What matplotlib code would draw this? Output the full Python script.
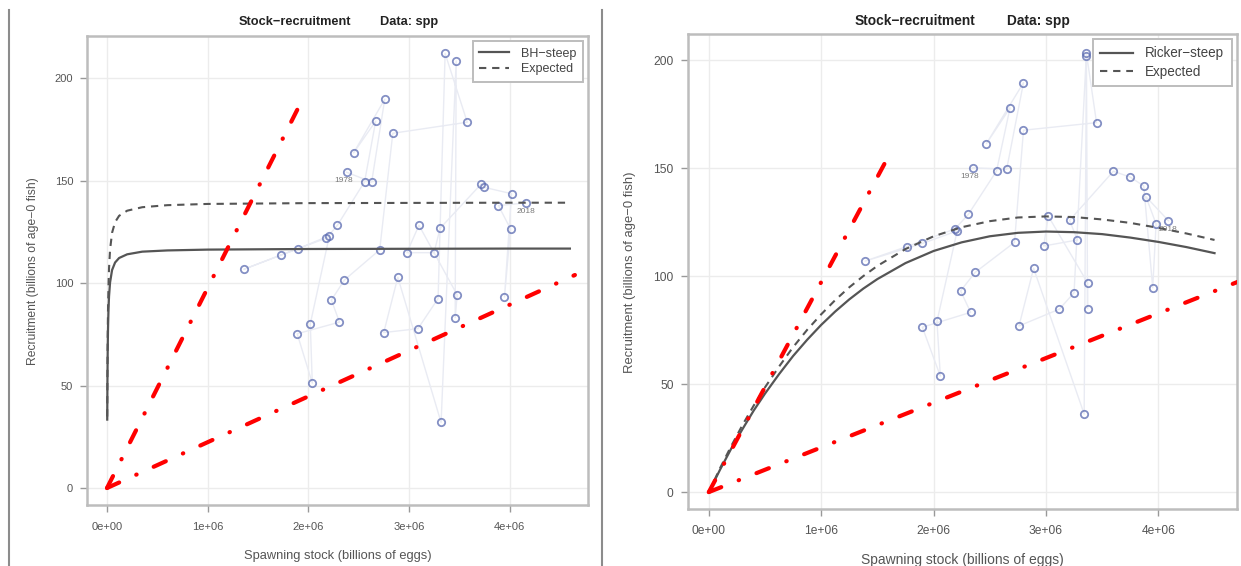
import matplotlib
matplotlib.use('Agg')
import matplotlib.pyplot as plt
from matplotlib.lines import Line2D
from matplotlib.ticker import FuncFormatter

plt.rcParams['font.family'] = ['Liberation Sans', 'DejaVu Sans']

W, H = 1241, 566

years = list(range(1978, 2019))

# left panel (Beverton-Holt), spawning stock in eggs, recruitment in billions
ssbBH = [2.38e6, 2.63e6, 2.76e6, 2.45e6, 2.67e6, 2.56e6, 2.29e6, 2.18e6, 1.73e6, 1.36e6,
         1.90e6, 2.21e6, 2.02e6, 2.04e6, 1.89e6, 2.31e6, 2.23e6, 2.36e6, 2.71e6, 2.84e6,
         3.58e6, 3.36e6, 3.29e6, 3.09e6, 2.75e6, 2.89e6, 3.32e6, 3.47e6, 3.46e6, 3.48e6,
         3.10e6, 2.98e6, 3.25e6, 3.31e6, 3.72e6, 3.75e6, 4.02e6, 3.95e6, 4.01e6, 3.89e6, 4.16e6]
recBH = [154.2, 149.4, 189.8, 163.6, 179.1, 149.6, 128.3, 122.0, 113.8, 106.8,
         116.9, 123.2, 80.1, 51.2, 75.3, 81.0, 91.8, 101.6, 116.3, 173.2,
         178.6, 212.2, 92.5, 77.8, 75.9, 102.9, 32.0, 208.5, 83.2, 94.3,
         128.3, 114.9, 114.9, 126.8, 148.5, 146.8, 143.7, 93.3, 126.5, 137.9, 139.2]

# right panel (Ricker)
ssbRk = [2.35e6, 2.65e6, 2.80e6, 2.47e6, 2.68e6, 2.56e6, 2.31e6, 2.19e6, 1.76e6, 1.39e6,
         1.90e6, 2.21e6, 2.03e6, 2.06e6, 1.90e6, 2.33e6, 2.24e6, 2.37e6, 2.72e6, 2.80e6,
         3.45e6, 3.36e6, 3.25e6, 3.12e6, 2.76e6, 2.89e6, 3.34e6, 3.36e6, 3.37e6, 3.37e6,
         3.02e6, 2.98e6, 3.28e6, 3.21e6, 3.60e6, 3.75e6, 3.87e6, 3.95e6, 3.98e6, 3.89e6, 4.09e6]
recRk = [150.1, 149.4, 189.5, 161.3, 177.8, 148.6, 128.6, 121.8, 113.6, 106.9,
         115.1, 120.9, 79.0, 53.7, 76.3, 83.2, 93.1, 101.7, 115.6, 167.5,
         171.0, 203.1, 92.3, 84.7, 76.9, 103.6, 36.1, 201.9, 84.9, 96.9,
         127.8, 113.9, 116.7, 125.8, 148.5, 145.8, 141.7, 94.6, 124.1, 136.7, 125.6]

# fitted curves
bhX = [0.002e6, 0.004e6, 0.007e6, 0.01e6, 0.015e6, 0.02e6, 0.03e6, 0.05e6, 0.08e6, 0.12e6,
       0.2e6, 0.35e6, 0.6e6, 1.0e6, 2.0e6, 3.0e6, 4.0e6, 4.6e6]
bhFit = [33.4, 52.0, 68.3, 78.0, 87.8, 93.6, 100.3, 106.4, 110.1, 112.3,
         114.1, 115.4, 116.0, 116.4, 116.7, 116.8, 116.9, 116.9]
bhExp = [34.9, 55.8, 75.1, 87.2, 99.6, 107.3, 116.3, 124.6, 129.8, 132.9,
         135.4, 137.1, 138.1, 138.7, 139.1, 139.2, 139.3, 139.3]

rkX = [0, 0.1e6, 0.2e6, 0.3e6, 0.4e6, 0.5e6, 0.625e6, 0.75e6, 0.875e6, 1.0e6, 1.125e6,
       1.25e6, 1.375e6, 1.5e6, 1.75e6, 2.0e6, 2.25e6, 2.5e6, 2.75e6, 3.0e6, 3.25e6,
       3.5e6, 3.75e6, 4.0e6, 4.25e6, 4.5e6]
rkFit = [0, 10.4, 20.2, 29.2, 37.8, 45.6, 54.6, 63.0, 70.5, 77.4, 83.6,
         89.2, 94.2, 98.6, 106.0, 111.6, 115.6, 118.4, 120.0, 120.6, 120.3,
         119.4, 117.8, 115.8, 113.4, 110.6]
rkExp = [0, 11.1, 21.4, 31.1, 40.1, 48.5, 58.1, 67.1, 75.1, 82.3, 88.9,
         94.8, 100.0, 104.7, 112.5, 118.4, 122.6, 125.4, 127.1, 127.6, 127.3,
         126.2, 124.6, 122.3, 119.7, 116.7]

# red reference lines (x end, y end) from the origin
steepBH = [1.90e6, 185.6]
lowBH = [4.65e6, 104.0]
steepRk = [1.59e6, 154.6]
lowRk = [4.90e6, 101.3]

tickX = [0, 1e6, 2e6, 3e6, 4e6]
tickY = [0, 50, 100, 150, 200]

fig = plt.figure(figsize=(W / 100, H / 100), dpi=100)


def fx(x):
    return x / W


def fy(y):
    return 1 - y / H


def drawPanel(rect, ssb, rec, fitX, fit, expct, fitName, steep, low, xlim, ylim,
              titleXs, titleY, xlabPos, ylabPos, fs):
    x0, y0, x1, y1 = rect
    ax = fig.add_axes([fx(x0), fy(y1), (x1 - x0) / W, (y1 - y0) / H])
    ax.set_xlim(*xlim)
    ax.set_ylim(*ylim)
    ax.set_xticks(tickX)
    ax.set_yticks(tickY)
    ax.grid(True, color='#ececec', lw=1)
    ax.set_axisbelow(True)
    ax.xaxis.set_major_formatter(FuncFormatter(lambda v, p: f"{v:.0e}"))
    ax.tick_params(colors='#999999', labelcolor='#555555', labelsize=8 * fs,
                   length=5, width=1)
    ax.tick_params(axis='x', pad=7)
    ax.tick_params(axis='y', pad=5)
    for s in ax.spines.values():
        s.set_color('#bdbdbd')
        s.set_linewidth(1.8)

    # trajectory and observations
    ax.plot(ssb, rec, color='#e9ebf3', lw=1, zorder=2)
    ax.plot(ssb, rec, 'o', mfc='none', mec='#5a6ab0', mew=1.3, ms=5.3, alpha=0.75, zorder=3)
    ax.annotate(str(years[0]), (ssb[0], rec[0]), xytext=(-2, -6), textcoords='offset points',
                ha='center', va='center', fontsize=6, color='#7a7a7a', zorder=4)
    ax.annotate(str(years[-1]), (ssb[-1], rec[-1]), xytext=(0, -6), textcoords='offset points',
                ha='center', va='center', fontsize=6, color='#7a7a7a', zorder=4)

    # fitted curves
    ax.plot(fitX, fit, color='#555555', lw=1.6, zorder=5, label=fitName)
    ax.plot(fitX, expct, color='#555555', lw=1.5, ls=(0, (3.5, 2.8)), zorder=5, label='Expected')

    # reference lines
    for line in [steep, low]:
        ax.plot([0, line[0]], [0, line[1]], color='#ff0000', lw=3,
                ls=(0, (3.2, 4.5, 0.1, 4.5)), dash_capstyle='round', zorder=6)

    ax.legend(loc='upper right', bbox_to_anchor=(0.99, 0.99), fontsize=9 * fs, frameon=True,
              fancybox=False, edgecolor='#bdbdbd', framealpha=1, handlelength=2.4,
              handletextpad=0.9, borderpad=0.55, labelspacing=0.3, borderaxespad=0)
    leg = ax.get_legend()
    leg.get_frame().set_linewidth(1.4)
    for t in leg.get_texts():
        t.set_color('#444444')

    fig.text(fx(titleXs[0]), fy(titleY), 'Stock\u2212recruitment', ha='center', va='center',
             fontsize=9.2 * fs, fontweight='bold', color='#222222')
    fig.text(fx(titleXs[1]), fy(titleY), 'Data: spp', ha='center', va='center',
             fontsize=9.2 * fs, fontweight='bold', color='#222222')
    fig.text(fx(xlabPos[0]), fy(xlabPos[1]), 'Spawning stock (billions of eggs)',
             ha='center', va='center', fontsize=9.3 * fs, color='#555555')
    fig.text(fx(ylabPos[0]), fy(ylabPos[1]), 'Recruitment (billions of age\u22120 fish)',
             ha='center', va='center', fontsize=8.7 * fs, color='#555555', rotation=90)
    return ax


drawPanel((87, 36, 588, 505), ssbBH, recBH, bhX, bhFit, bhExp, 'BH\u2212steep',
          steepBH, lowBH, (-0.199e6, 4.78e6), (-8.3, 220.7),
          (295, 409), 22, (338, 556), (33, 271), 1.0)
drawPanel((687.5, 34.3, 1237, 508.7), ssbRk, recRk, rkX, rkFit, rkExp, 'Ricker\u2212steep',
          steepRk, lowRk, (-0.19e6, 4.70e6), (-7.7, 211.9),
          (915, 1038), 21, (962, 560), (630, 272), 1.08)

# screenshot frame lines
fig.add_artist(Line2D([fx(9), fx(9)], [0, fy(10)], color='#8c8c8c', lw=1.5))
fig.add_artist(Line2D([fx(602), fx(602)], [0, fy(10)], color='#8c8c8c', lw=1.5))

fig.savefig('out.png', dpi=100)
